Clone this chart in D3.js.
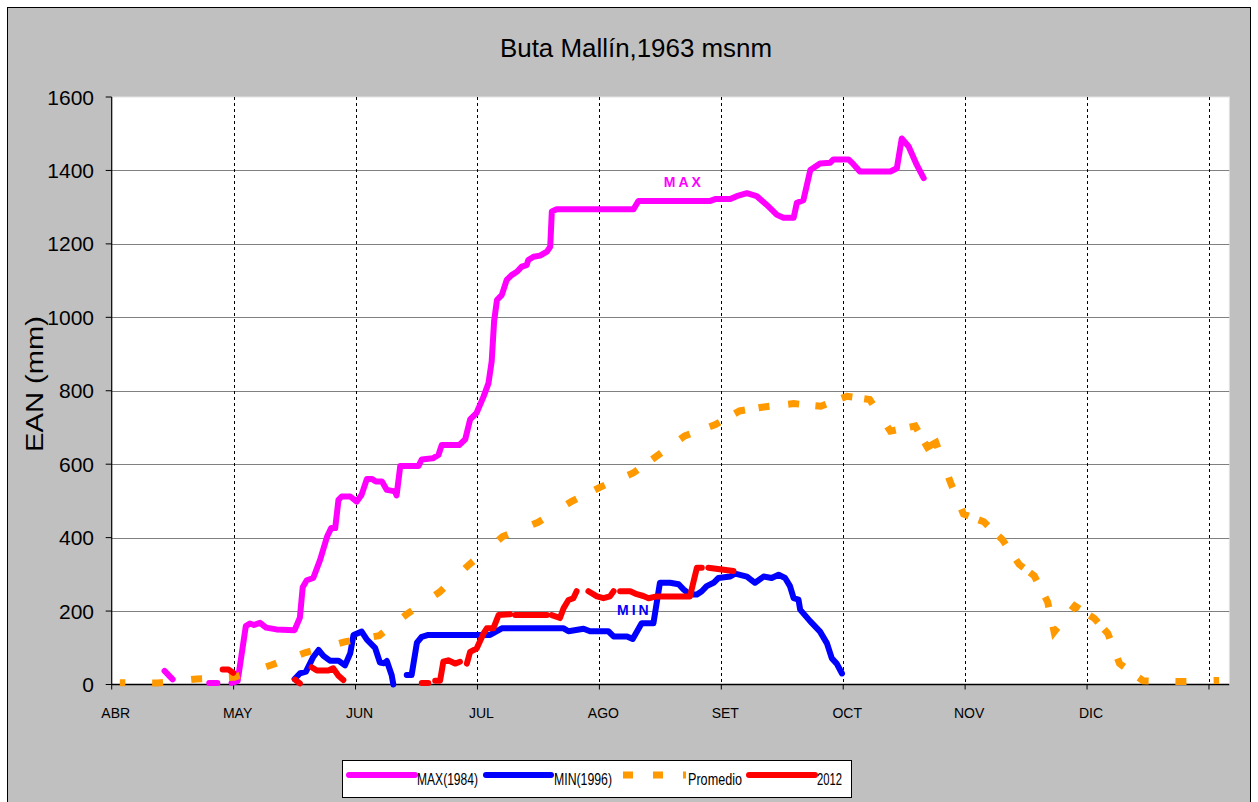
<!DOCTYPE html>
<html>
<head>
<meta charset="utf-8">
<script src="https://cdn.jsdelivr.net/npm/d3@7"></script>
<style>
  html, body { margin: 0; padding: 0; background: #fff; }
  svg { display: block; font-family: "Liberation Sans", Arial, sans-serif; }
</style>
</head>
<body>
<svg id="chart" width="1258" height="802"></svg>
<script>
// Month labels on the category axis (one tick every 30 days, 275 days total)
const months = ['ABR', 'MAY', 'JUN', 'JUL', 'AGO', 'SET', 'OCT', 'NOV', 'DIC'];
const yTicks = [0, 200, 400, 600, 800, 1000, 1200, 1400, 1600];

// [day since 1 April, EAN mm]; null = gap in the record
const maxSeries = [
  [13, 37], [15, 14], null,
  [24, 4], [26, 4], null,
  [29.5, 4], [31, 10], [33, 159], [34, 166], [35, 162], [36.5, 168], [38, 155], [40.5, 150],
  [45, 148], [46.3, 182], [47, 265], [48, 284], [49.6, 290], [51.3, 340], [53, 403], [54, 426],
  [55, 426], [55.8, 503], [56.6, 512], [58.7, 512], [60.3, 498], [61.5, 517], [62.8, 560],
  [64, 560], [65, 553], [66.5, 553], [67.7, 530], [69.7, 526], [70.1, 515], [71, 595],
  [75.5, 595], [76.3, 613], [79, 616], [80.4, 625], [81.2, 652], [85.5, 652], [87, 668],
  [88.2, 722], [89.8, 740], [91.5, 784], [92.7, 820], [93.5, 880], [94.1, 990], [94.8, 1047],
  [96, 1061], [97.2, 1102], [98.4, 1115], [99.7, 1124], [100.9, 1138], [102.1, 1142],
  [102.5, 1156], [103.8, 1165], [105.4, 1168], [107.1, 1179], [107.9, 1192], [108.3, 1288],
  [109.5, 1294], [128.4, 1294], [129.6, 1317], [147.3, 1317], [148.5, 1322], [152.2, 1322],
  [153.8, 1330], [156.3, 1338], [158.7, 1330], [161.2, 1306], [163.7, 1279], [165.3, 1271],
  [167.8, 1271], [168.6, 1312], [170.2, 1319], [171.9, 1401], [174.3, 1419], [176.8, 1421],
  [177.6, 1430], [181.3, 1430], [182.5, 1417], [184.1, 1397], [191.6, 1397], [193.2, 1406],
  [194.4, 1487], [196.1, 1465], [198.1, 1415], [199.8, 1379]
];

const minSeries = [
  [45, 15], [46.3, 30], [47.8, 35], [49.6, 75], [50.9, 94], [52.1, 78], [53.7, 65], [55.8, 65],
  [57.4, 52], [58.7, 85], [59.5, 135], [61.5, 144], [62.8, 122], [64.8, 100], [66, 60],
  [67, 58], [67.7, 64], [68.9, 25], [69.3, 0], null,
  [72.6, 26], [73.8, 26], [75.1, 114], [76.3, 130], [77.9, 135], [93.1, 135], [96, 153],
  [111.2, 153], [112.4, 145], [116.1, 152], [117.7, 145], [122.2, 145], [123.5, 131],
  [126.8, 131], [128.2, 124], [130.4, 167], [133.3, 167], [134.1, 222], [134.9, 277],
  [137.4, 277], [139.5, 273], [140.7, 259], [142.3, 245], [144, 245], [145.2, 254],
  [146.4, 268], [148.1, 277], [149.3, 290], [152.2, 294], [153.4, 302], [156.3, 294],
  [158.3, 277], [160.4, 294], [162.4, 290], [164.1, 299], [165.7, 290], [166.9, 268],
  [167.8, 235], [169, 231], [169.4, 204], [171.9, 172], [174.3, 144], [176, 112],
  [177.2, 71], [178.4, 57], [179.7, 30]
];

const promedioSeries = [
  [2, 5], [11.3, 4], [20.9, 15], [30.2, 20], [39.3, 53], [47.7, 87], [57.3, 116], [65.8, 133],
  [72.8, 193], [80.7, 252], [87.9, 326], [96.2, 403], [104.8, 441], [113.2, 499], [120.1, 537],
  [128.3, 576], [134.1, 622], [141, 677], [148.4, 707], [154.5, 745], [160.5, 756],
  [167.8, 765], [174.5, 758], [180.9, 785], [186.5, 776], [191.6, 690], [197.7, 704],
  [200.7, 646], [202.8, 659], [206.4, 550], [209.6, 464], [214.6, 443], [219.2, 394],
  [223.3, 327], [227, 296], [230.3, 225], [231.9, 143], [237, 214], [241.8, 180],
  [245.1, 139], [248, 57], [253.8, 10], [263.1, 8], [272.5, 11]
];

const s2012Series = [
  [27.3, 41], [28.7, 41], [29.9, 32], null,
  [45.1, 13], [46.3, 3], null,
  [49.2, 47], [50.5, 38], [53.3, 38], [54.5, 44], [55.8, 24], [57, 12], null,
  [76.3, 4], [77.9, 4], null,
  [79.6, 10], [80.8, 10], [81.6, 62], [82.8, 66], [84.5, 57], [85.7, 62], null,
  [87.4, 57], [88.2, 89], [89.8, 98], [91.5, 139], [92.3, 153], [93.9, 153], [95.2, 189], [98, 191], null,
  [99.3, 189], [107.1, 189], null,
  [108.3, 189], [110.3, 181], [111.2, 208], [112.4, 230], [113.6, 235], [114.4, 254], null,
  [117.3, 254], [119.4, 240], [121, 235], [122.6, 240], [123.5, 254], null,
  [125.1, 254], [127.6, 254], [129.2, 246], [130.8, 241], [132.1, 235], [134.1, 240],
  [142.3, 240], [143.1, 277], [144, 318], [145.2, 318], null,
  [146.8, 318], [150.1, 313], [153, 309]
];

const svg = d3.select('#chart');
const plot = { left: 111.7, right: 1229.3, top: 97, bottom: 684.5 };

const x = d3.scaleLinear().domain([0, 275]).range([plot.left, plot.right]);
const y = d3.scaleLinear().domain([0, 1600]).range([plot.bottom, plot.top]);

// chart background + frame
svg.append('rect')
  .attr('x', 7.5).attr('y', 7.5).attr('width', 1243).attr('height', 810)
  .attr('fill', '#c0c0c0').attr('stroke', '#000').attr('stroke-width', 1);

svg.append('rect')
  .attr('x', plot.left).attr('y', plot.top)
  .attr('width', plot.right - plot.left).attr('height', plot.bottom - plot.top)
  .attr('fill', '#fff').attr('stroke', '#e4e4e4').attr('stroke-width', 1);

// title
svg.append('text')
  .attr('x', 636).attr('y', 57)
  .attr('text-anchor', 'middle')
  .style('font-size', '25px')
  .attr('textLength', 272).attr('lengthAdjust', 'spacingAndGlyphs')
  .attr('fill', '#000')
  .text('Buta Mallín,1963 msnm');

// horizontal gridlines
svg.append('g')
  .selectAll('line')
  .data(yTicks.filter(v => v > 0 && v < 1600))
  .enter().append('line')
  .attr('x1', plot.left).attr('x2', plot.right)
  .attr('y1', d => Math.round(y(d)) + 0.5).attr('y2', d => Math.round(y(d)) + 0.5)
  .attr('stroke', '#808080').attr('stroke-width', 1.2);

// vertical month gridlines (dashed)
const monthTicks = d3.range(0, 10).map(i => i * 30);
svg.append('g')
  .selectAll('line')
  .data(monthTicks.slice(1))
  .enter().append('line')
  .attr('x1', d => Math.round(x(d)) + 0.5).attr('x2', d => Math.round(x(d)) + 0.5)
  .attr('y1', plot.top).attr('y2', plot.bottom)
  .attr('stroke', '#000').attr('stroke-width', 1)
  .attr('stroke-dasharray', '3,3');

// y axis
const yAxis = svg.append('g');
yAxis.append('line')
  .attr('x1', plot.left).attr('x2', plot.left)
  .attr('y1', plot.top).attr('y2', plot.bottom)
  .attr('stroke', '#000').attr('stroke-width', 1.2);
yAxis.selectAll('.tick')
  .data(yTicks)
  .enter().append('line')
  .attr('x1', plot.left - 6).attr('x2', plot.left)
  .attr('y1', d => y(d)).attr('y2', d => y(d))
  .attr('stroke', '#000');
yAxis.selectAll('text')
  .data(yTicks)
  .enter().append('text')
  .attr('x', 94).attr('y', d => y(d) + 7.5)
  .attr('text-anchor', 'end')
  .style('font-size', '21px')
  .text(d => d);

svg.append('text')
  .attr('transform', 'translate(43,384) rotate(-90)')
  .attr('text-anchor', 'middle')
  .style('font-size', '23px')
  .attr('textLength', 136).attr('lengthAdjust', 'spacingAndGlyphs')
  .text('EAN (mm)');

// x axis
const xAxis = svg.append('g');
xAxis.append('line')
  .attr('x1', plot.left).attr('x2', plot.right)
  .attr('y1', plot.bottom).attr('y2', plot.bottom)
  .attr('stroke', '#000').attr('stroke-width', 1.5);
xAxis.selectAll('.tick')
  .data(monthTicks)
  .enter().append('line')
  .attr('x1', d => x(d)).attr('x2', d => x(d))
  .attr('y1', plot.bottom).attr('y2', plot.bottom + 5)
  .attr('stroke', '#000');
xAxis.selectAll('text')
  .data(months)
  .enter().append('text')
  .attr('x', (d, i) => x(i * 30) + 4)
  .attr('y', 718)
  .attr('text-anchor', 'middle')
  .style('font-size', '14px')
  .text(d => d);

// series
const line = d3.line()
  .defined(d => d != null)
  .x(d => x(d[0]))
  .y(d => y(d[1]));

function drawSolid(data, color) {
  svg.append('path')
    .datum(data)
    .attr('d', line)
    .attr('fill', 'none')
    .attr('stroke', color)
    .attr('stroke-width', 6)
    .attr('stroke-linecap', 'round')
    .attr('stroke-linejoin', 'round');
}

drawSolid(maxSeries, '#ff00ff');
drawSolid(minSeries, '#0000ff');

// promedio: dashed, one dash centred on every point (overlapping dashes merged)
const promPts = promedioSeries.map(d => [x(d[0]), y(d[1])]);
const half = 5.5;
const cum = [0];
for (let i = 1; i < promPts.length; i++) {
  cum.push(cum[i - 1] + Math.hypot(promPts[i][0] - promPts[i - 1][0], promPts[i][1] - promPts[i - 1][1]));
}
const total = cum[cum.length - 1];
const spans = [];
cum.forEach(s => {
  const a = Math.max(0, s - half), b = Math.min(total, s + half);
  const last = spans[spans.length - 1];
  if (last && a <= last[1]) last[1] = b;
  else spans.push([a, b]);
});
const dashes = [];
let pos = 0;
spans.forEach(([a, b]) => {
  if (dashes.length === 0 && a === 0) {
    dashes.push(b);
  } else {
    if (dashes.length === 0) dashes.push(0);
    dashes.push(a - pos, b - a);
  }
  pos = b;
});
if (dashes.length % 2 === 0) dashes.push(0);
dashes.push(5000);
svg.append('path')
  .datum(promedioSeries)
  .attr('d', line)
  .attr('fill', 'none')
  .attr('stroke', '#ff9900')
  .attr('stroke-width', 7)
  .attr('stroke-linecap', 'butt')
  .attr('stroke-linejoin', 'miter')
  .attr('stroke-dasharray', dashes.map(v => v.toFixed(2)).join(','));

drawSolid(s2012Series, '#ff0000');

// in-plot labels
svg.append('text')
  .attr('x', x(140.8)).attr('y', y(1355))
  .attr('text-anchor', 'middle')
  .style('font-size', '14px').style('font-weight', 'bold').style('letter-spacing', '3px')
  .attr('fill', '#ff00ff')
  .text('MAX');
svg.append('text')
  .attr('x', x(128.6)).attr('y', y(190))
  .attr('text-anchor', 'middle')
  .style('font-size', '14px').style('font-weight', 'bold').style('letter-spacing', '3px')
  .attr('fill', '#0000ff')
  .text('MIN');

// legend
const legend = svg.append('g');
legend.append('rect')
  .attr('x', 342.5).attr('y', 760.5).attr('width', 509).attr('height', 37)
  .attr('fill', '#fff').attr('stroke', '#000').attr('stroke-width', 1);

const legendItems = [
  { label: 'MAX(1984)', color: '#ff00ff', x0: 349, x1: 415, tx: 417, tw: 61, dash: false },
  { label: 'MIN(1996)', color: '#0000ff', x0: 486, x1: 551, tx: 554, tw: 58, dash: false },
  { label: 'Promedio', color: '#ff9900', x0: 623, x1: 686, tx: 688, tw: 54, dash: true },
  { label: '2012', color: '#ff0000', x0: 749, x1: 815, tx: 817, tw: 25, dash: false }
];
const ly = 775;
legendItems.forEach(it => {
  const l = legend.append('line')
    .attr('x1', it.x0).attr('x2', it.x1)
    .attr('y1', ly).attr('y2', ly)
    .attr('stroke', it.color);
  if (it.dash) {
    l.attr('stroke-width', 7).attr('stroke-dasharray', '10,20');
  } else {
    l.attr('stroke-width', 6).attr('stroke-linecap', 'round');
  }
  legend.append('text')
    .attr('x', it.tx).attr('y', 785)
    .attr('textLength', it.tw).attr('lengthAdjust', 'spacingAndGlyphs')
    .style('font-size', '17px')
    .text(it.label);
});
</script>
</body>
</html>
